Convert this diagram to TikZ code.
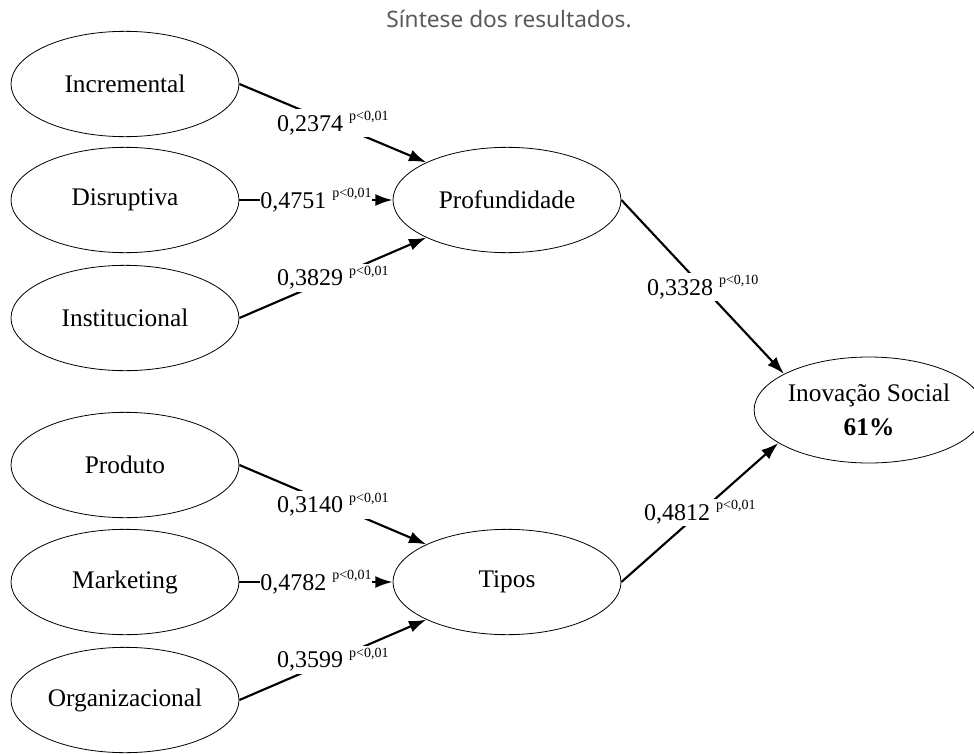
\documentclass[tikz,border=0pt]{standalone}
\usepackage{fontspec}
\setmainfont{Liberation Serif}
\newfontfamily\titlefont{Noto Sans}
\usetikzlibrary{shapes.geometric,arrows.meta}
\definecolor{titlegray}{HTML}{5A5A5A}
\tikzset{
  construct/.style={ellipse,draw,line width=0.6pt,minimum width=171pt,minimum height=79pt,inner sep=0pt,font=\fontsize{19}{25}\selectfont},
  link/.style={line width=1.6pt,-{Latex[length=13pt,width=9pt]}},
  coef/.style={fill=white,inner sep=1.5pt,font=\fontsize{18}{20}\selectfont}
}
\newcommand\pvalsup[1]{\raisebox{8pt}{\fontsize{10.5}{11}\selectfont p<0,#1}}
\begin{document}
\begin{tikzpicture}[x=0.75pt,y=-0.75pt]
\useasboundingbox (0,0) rectangle (974,753);
\node[font=\titlefont\fontsize{17}{19}\selectfont,text=titlegray] (title) at (509,19) {Síntese dos resultados.};

\node[construct] (inc) at (125,84) {Incremental};
\node[construct] (dis) at (125,200) {Disruptiva};
\node[construct] (ins) at (125,318) {Institucional};
\node[construct] (pro) at (125,465) {Produto};
\node[construct] (mkt) at (125,582) {Marketing};
\node[construct] (org) at (125,700) {Organizacional};

\node[construct] (prof) at (507,200) {Profundidade};
\node[construct] (tip) at (507,582) {Tipos};
\node[construct,align=center,minimum width=168pt,minimum height=79.5pt] (ino) at (869,410) {Inovação Social\\\textbf{61\%}};

\draw[link] (inc.east) -- node[coef]{0,2374 \pvalsup{01}} (prof.155);
\draw[link] (dis.east) -- node[coef,inner sep=0.5pt]{0,4751 \pvalsup{01}} (prof.west);
\draw[link] (ins.east) -- node[coef]{0,3829 \pvalsup{01}} (prof.205);

\draw[link] (pro.east) -- node[coef]{0,3140 \pvalsup{01}} (tip.155);
\draw[link] (mkt.east) -- node[coef,inner sep=0.5pt]{0,4782 \pvalsup{01}} (tip.west);
\draw[link] (org.east) -- node[coef]{0,3599 \pvalsup{01}} (tip.205);

\draw[link] (prof.east) -- node[coef]{0,3328 \pvalsup{10}} (ino.157);
\draw[link] (tip.east) -- node[coef]{0,4812 \pvalsup{01}} (ino.200);
\end{tikzpicture}
\end{document}
